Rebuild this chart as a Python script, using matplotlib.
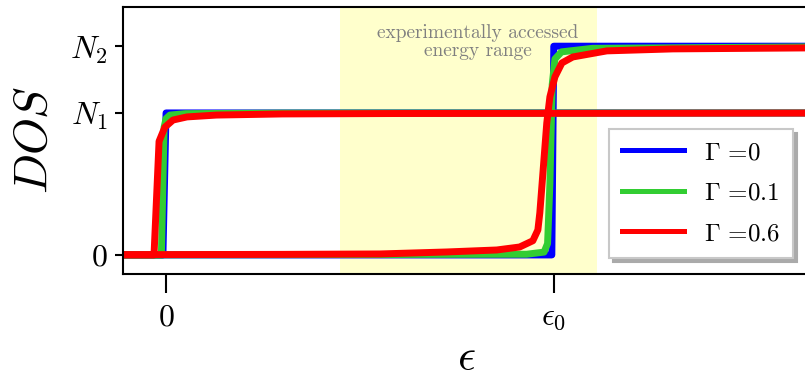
import matplotlib.pyplot as plt

plt.rcParams['mathtext.fontset'] = 'cm'
plt.rcParams['font.family'] = ['cmr10', 'DejaVu Serif']
plt.rcParams['axes.formatter.use_mathtext'] = True

# step heights and position of the second band edge
N1 = 1.0
N2 = 1.47
eps0 = 1.0

blue_x1 = [-0.111, -0.008, 0.0, 1.66]
blue_y1 = [0.0, 0.0, 1.0, 1.0]
blue_x2 = [-0.111, 0.995, 1.0, 1.66]
blue_y2 = [0.0, 0.0, 1.47, 1.47]

green_x1 = [-0.111, -0.012, -0.005, 0.0, 0.01, 0.05, 0.3, 1.66]
green_y1 = [0.0, 0.0, 0.9, 0.96, 0.985, 0.995, 0.999, 1.0]
green_x2 = [-0.111, 0.93, 0.975, 0.984, 0.990, 0.996, 1.003, 1.02, 1.1, 1.66]
green_y2 = [0.0, 0.005, 0.02, 0.08, 0.5, 1.2, 1.38, 1.43, 1.455, 1.465]

red_x1 = [-0.111, -0.031, -0.018, -0.003, 0.018, 0.054, 0.13, 0.3, 0.6, 1.66]
red_y1 = [0.0, 0.0, 0.80, 0.90, 0.95, 0.972, 0.985, 0.993, 0.996, 0.999]
red_x2 = [-0.111, 0.30, 0.552, 0.724, 0.853, 0.912, 0.946, 0.959, 0.964,
          0.972, 0.982, 0.990, 1.003, 1.021, 1.049, 1.137, 1.307, 1.66]
red_y2 = [0.002, 0.004, 0.007, 0.021, 0.035, 0.056, 0.10, 0.176, 0.296,
          0.577, 0.93, 1.113, 1.254, 1.352, 1.394, 1.437, 1.451, 1.458]

gammas = ['0', '0.1', '0.6']
colors = ['#0000ff', '#32cd32', '#ff0000']
curves = [
    (blue_x1, blue_y1, blue_x2, blue_y2),
    (green_x1, green_y1, green_x2, green_y2),
    (red_x1, red_y1, red_x2, red_y2),
]

# shaded window in energy
window = (0.448, 1.111)

fig = plt.figure(figsize=(8.05, 3.8), dpi=100)
ax = fig.add_axes([0.1528, 0.279, 0.853, 0.7026])

ax.axvspan(window[0], window[1], color='yellow', alpha=0.2, lw=0, zorder=0)
ax.text(sum(window) / 2 + 0.025, 1.50, 'experimentally accessed\nenergy range',
        ha='center', va='center', fontsize=14, color='#808080',
        linespacing=1.0, family='cmr10')

for (x1, y1, x2, y2), c, g in zip(curves, colors, gammas):
    ax.plot(x2, y2, color=c, lw=5)
    ax.plot(x1, y1, color=c, lw=5, label=r'$\Gamma$ =' + g)

ax.set_xlim(-0.111, 1.66)
ax.set_ylim(-0.134, 1.746)

ax.set_xticks([0, eps0])
ax.set_xticklabels([r'$0$', r'$\epsilon_0$'], fontsize=23)
ax.set_yticks([0, N1, N2])
ax.set_yticklabels([r'$0$', r'$N_1$', r'$N_2$'], fontsize=23)
ax.tick_params(axis='x', length=14, width=1.5, pad=8)
ax.tick_params(axis='y', length=6, width=1.5, pad=5)
for s in ax.spines.values():
    s.set_linewidth(1.5)

ax.set_xlabel(r'$\epsilon$', fontsize=32, labelpad=5)
ax.set_ylabel(r'$DOS$', fontsize=34, labelpad=10)

leg = ax.legend(loc='upper left', bbox_to_anchor=(609 / 805, 1 - 129 / 380),
                bbox_transform=fig.transFigure, borderaxespad=0,
                fontsize=18, fancybox=False, framealpha=1,
                edgecolor='#c8c8c8', handlelength=2.5, handletextpad=0.8,
                labelspacing=0.72, borderpad=0.5,
                shadow={'ox': 3, 'oy': -3, 'color': '#aaaaaa', 'alpha': 1})
leg.get_frame().set_linewidth(1.5)
for line in leg.get_lines():
    line.set_linewidth(3.6)

fig.savefig('out.png', dpi=100)
